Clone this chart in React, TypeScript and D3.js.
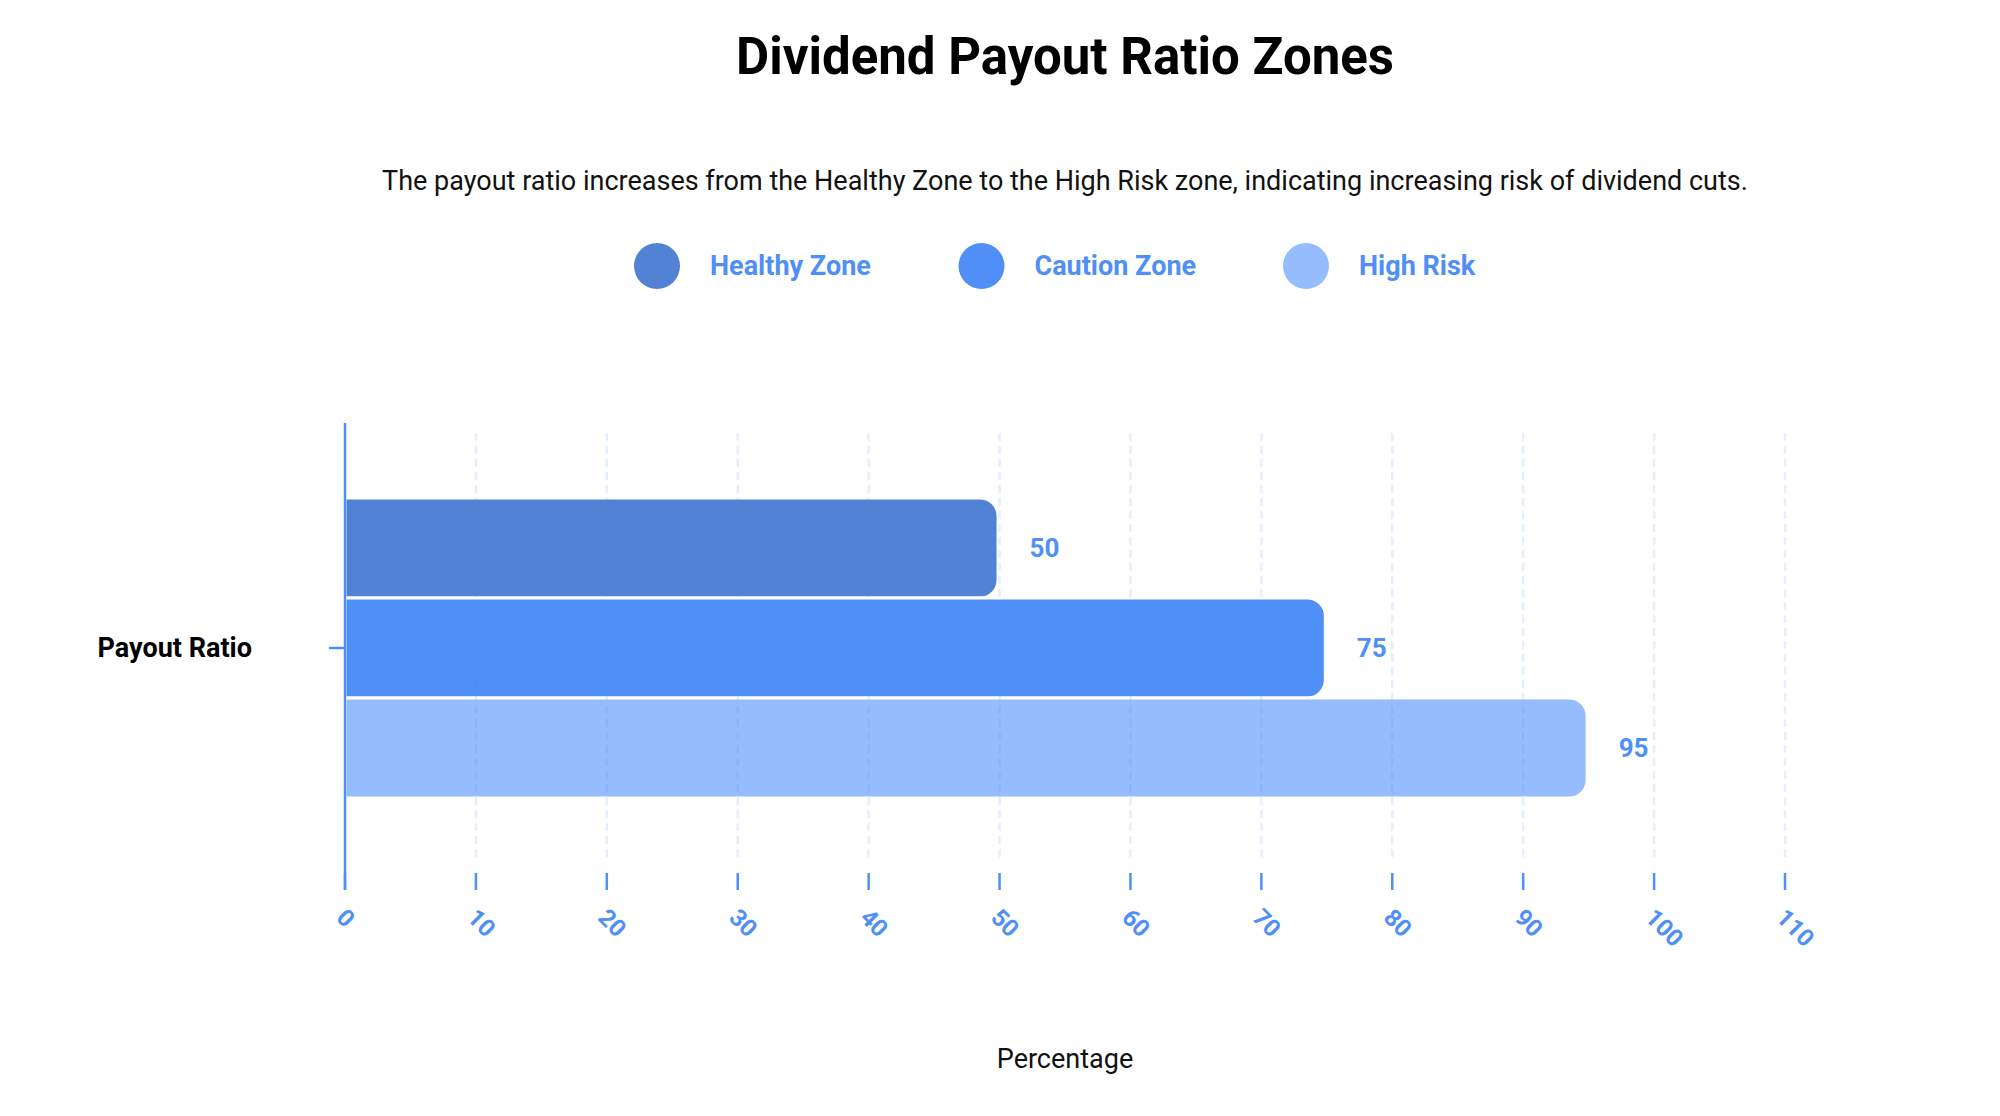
import { useEffect, useRef } from 'react'
import * as d3 from 'd3'

const categories = ['Payout Ratio']
const seriesNames = ['Healthy Zone', 'Caution Zone', 'High Risk']
const seriesValues = [50, 75, 95]
const seriesColors = ['#5182d4', '#4f8ff7', '#95bcfd']
const xTicks = [0, 10, 20, 30, 40, 50, 60, 70, 80, 90, 100, 110]

const TITLE = 'Dividend Payout Ratio Zones'
const SUBTITLE =
  'The payout ratio increases from the Healthy Zone to the High Risk zone, indicating increasing risk of dividend cuts.'
const X_LABEL = 'Percentage'

const ACCENT = '#4f8ff7'
const FONT = 'Roboto, "Noto Sans", sans-serif'

export default function App() {
  const svgRef = useRef<SVGSVGElement>(null)
  const width = 2000
  const height = 1116

  useEffect(() => {
    if (!svgRef.current) return
    const svg = d3.select(svgRef.current)
    svg.selectAll('*').remove()

    const margin = { top: 423, right: 215, bottom: 243, left: 345 }
    const innerWidth = width - margin.left - margin.right
    const innerHeight = height - margin.top - margin.bottom

    const g = svg.append('g').attr('transform', `translate(${margin.left},${margin.top})`)

    const x = d3.scaleLinear().domain([0, 110]).range([0, innerWidth])
    const y = d3.scaleBand<string>().domain(categories).range([0, innerHeight]).paddingInner(0.2).paddingOuter(0.2)
    const ySub = d3.scaleBand<string>().domain(seriesNames).range([0, y.bandwidth()])

    // title + subtitle
    svg.append('text')
      .attr('x', margin.left + innerWidth / 2)
      .attr('y', 74)
      .attr('text-anchor', 'middle')
      .attr('font-family', FONT)
      .attr('font-size', 51)
      .attr('font-weight', 700)
      .attr('fill', '#000')
      .text(TITLE)

    svg.append('text')
      .attr('x', margin.left + innerWidth / 2)
      .attr('y', 190)
      .attr('text-anchor', 'middle')
      .attr('font-family', FONT)
      .attr('font-size', 27)
      .attr('fill', '#111')
      .text(SUBTITLE)

    // legend
    const legend = svg.append('g').attr('transform', 'translate(657,266)')
    seriesNames.forEach((name, i) => {
      const item = legend.append('g').attr('transform', `translate(${i * 324.5},0)`)
      item.append('circle').attr('r', 23).attr('fill', seriesColors[i])
      item.append('text')
        .attr('x', 53)
        .attr('dominant-baseline', 'central')
        .attr('font-family', FONT)
        .attr('font-size', 27)
        .attr('font-weight', 700)
        .attr('fill', ACCENT)
        .text(name)
    })

    // bars (right corners rounded)
    const r = 18
    const barPath = (x0: number, y0: number, w: number, h: number) => {
      const rr = Math.min(r, w, h / 2)
      return `M${x0},${y0}H${x0 + w - rr}A${rr},${rr} 0 0 1 ${x0 + w},${y0 + rr}V${y0 + h - rr}A${rr},${rr} 0 0 1 ${x0 + w - rr},${y0 + h}H${x0}Z`
    }

    categories.forEach(cat => {
      const by = y(cat) ?? 0
      seriesNames.forEach((name, i) => {
        const v = seriesValues[i]
        const sy = by + (ySub(name) ?? 0)
        g.append('path')
          .attr('d', barPath(x(0), sy, x(v) - x(0) - 1.5, ySub.bandwidth()))
          .attr('fill', seriesColors[i])
          .attr('stroke', '#fff')
          .attr('stroke-width', 3)

        g.append('text')
          .attr('x', x(v) + 30)
          .attr('y', sy + ySub.bandwidth() / 2)
          .attr('dominant-baseline', 'central')
          .attr('font-family', FONT)
          .attr('font-size', 26)
          .attr('font-weight', 700)
          .attr('fill', ACCENT)
          .text(v)
      })
    })

    // grid over bars
    g.append('g')
      .selectAll('line')
      .data(xTicks.filter(t => t > 0))
      .enter()
      .append('line')
      .attr('x1', d => x(d))
      .attr('x2', d => x(d))
      .attr('y1', 10)
      .attr('y2', innerHeight - 13)
      .attr('stroke', ACCENT)
      .attr('stroke-opacity', 0.15)
      .attr('stroke-width', 2.5)
      .attr('stroke-dasharray', '8,5')

    // x ticks + labels
    const tickLen = 17
    const xAxis = g.append('g').attr('transform', `translate(0,${innerHeight})`)
    xAxis.selectAll('line')
      .data(xTicks)
      .enter()
      .append('line')
      .attr('x1', d => x(d))
      .attr('x2', d => x(d))
      .attr('y1', 0)
      .attr('y2', tickLen)
      .attr('stroke', ACCENT)
      .attr('stroke-width', 2.5)

    xAxis.selectAll('text')
      .data(xTicks)
      .enter()
      .append('text')
      .attr('transform', d => `translate(${x(d) - 10},${tickLen + 29}) rotate(45)`)
      .attr('text-anchor', 'start')
      .attr('font-family', FONT)
      .attr('font-size', 24)
      .attr('font-weight', 700)
      .attr('fill', ACCENT)
      .text(d => d)

    // y axis line + tick + label
    g.append('line')
      .attr('x1', 0)
      .attr('x2', 0)
      .attr('y1', 0)
      .attr('y2', innerHeight + tickLen)
      .attr('stroke', ACCENT)
      .attr('stroke-width', 2.5)

    categories.forEach(cat => {
      const cy = (y(cat) ?? 0) + y.bandwidth() / 2
      g.append('line')
        .attr('x1', -16)
        .attr('x2', 0)
        .attr('y1', cy)
        .attr('y2', cy)
        .attr('stroke', ACCENT)
        .attr('stroke-width', 2.5)
      g.append('text')
        .attr('x', -93)
        .attr('y', cy)
        .attr('text-anchor', 'end')
        .attr('dominant-baseline', 'central')
        .attr('font-family', FONT)
        .attr('font-size', 27)
        .attr('font-weight', 700)
        .attr('fill', '#000')
        .text(cat)
    })

    svg.append('text')
      .attr('x', margin.left + innerWidth / 2)
      .attr('y', 1068)
      .attr('text-anchor', 'middle')
      .attr('font-family', FONT)
      .attr('font-size', 27)
      .attr('fill', '#111')
      .text(X_LABEL)
  }, [])

  return (
    <div>
      <style>{'body{margin:0}'}</style>
      <svg ref={svgRef} width={width} height={height} style={{ display: 'block', background: '#fff' }} />
    </div>
  )
}
